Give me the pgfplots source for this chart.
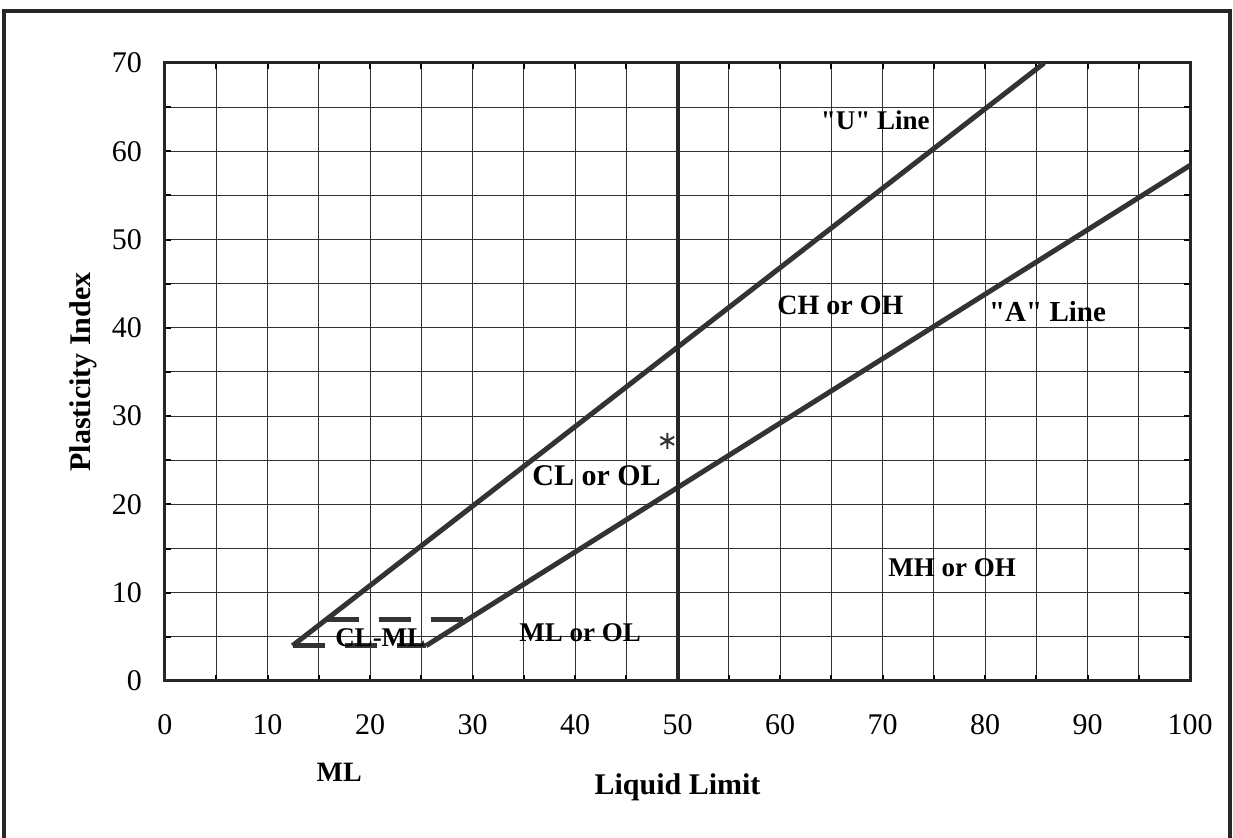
\documentclass[border=0pt]{standalone}
\usepackage{fontspec}
\setmainfont{Liberation Serif}
\newfontfamily\qfont{Liberation Serif}[Ligatures=TeXOff]
\usepackage{pgfplots}
\pgfplotsset{compat=1.18}
\begin{document}
\begin{tikzpicture}
\begin{axis}[
  at={(82.5pt,78.5pt)}, anchor=south west,
  scale only axis, width=512.5pt, height=309pt,
  xmin=0, xmax=100, ymin=0, ymax=70,
  xtick={0,10,...,100}, minor xtick={5,15,...,95},
  ytick={0,10,...,70}, minor ytick={5,15,...,65},
  grid=both,
  major grid style={black!80, line width=0.5pt},
  minor grid style={black!80, line width=0.5pt},
  axis line style={line width=1.5pt, black!85},
  tick align=inside, major tick length=3pt, minor tick length=3pt,
  tick style={black, line width=1pt},
  ticklabel style={font=\fontsize{15}{15}\selectfont},
  /pgf/number format/assume math mode=true,
  xticklabel style={yshift=-13pt},
  yticklabel style={xshift=-8pt},
  clip=false,
]
% U line and A line
\addplot[line width=2.5pt, black!80] coordinates {(12.44,4) (85.78,70)};
\addplot[line width=2.5pt, black!80] coordinates {(25.48,4) (100,58.4)};
% CL-ML band
\addplot[line width=2.5pt, black!80, dash pattern=on 16pt off 10pt] coordinates {(12.44,4) (25.48,4)};
\addplot[line width=2.5pt, black!80, dash pattern=on 16pt off 10pt] coordinates {(15.78,7) (29.59,7)};
% LL = 50
\addplot[line width=2pt, black!85] coordinates {(50,0) (50,70)};
% sample
\addplot[only marks, mark=asterisk, mark size=4pt, black!80, line width=1pt] coordinates {(49,27.2)};

\node[font=\qfont\bfseries\fontsize{13.5}{13.5}\selectfont] at (axis cs:69.3,63.5) {"U" Line};
\node[font=\bfseries\fontsize{14}{14}\selectfont] at (axis cs:65.9,42.6) {CH or OH};
\node[font=\qfont\bfseries\fontsize{14.5}{14.5}\selectfont] at (axis cs:86.1,41.8) {"A" Line};
\node[font=\bfseries\fontsize{15}{15}\selectfont] at (axis cs:42.1,23.3) {CL or OL};
\node[font=\bfseries\fontsize{13.5}{13.5}\selectfont] at (axis cs:76.8,12.8) {MH or OH};
\node[font=\bfseries\fontsize{13.5}{13.5}\selectfont] at (axis cs:40.5,5.5) {ML or OL};
\node[font=\bfseries\fontsize{13.5}{13.5}\selectfont] at (axis cs:21,4.9) {CL-ML};
\node[font=\bfseries\fontsize{14}{14}\selectfont] at (axis cs:17,-10.3) {ML};
\node[font=\bfseries\fontsize{15}{15}\selectfont] at (axis cs:50,-12.0) {Liquid Limit};
\node[font=\bfseries\fontsize{15}{15}\selectfont, rotate=90] at (axis cs:-8,35) {Plasticity Index};
\end{axis}
\draw[line width=2pt, black!85] (2pt,-10pt) rectangle (615pt,413.5pt);
\pgfresetboundingbox
\useasboundingbox (0,0) rectangle (616.5pt,419pt);
\end{tikzpicture}
\end{document}
